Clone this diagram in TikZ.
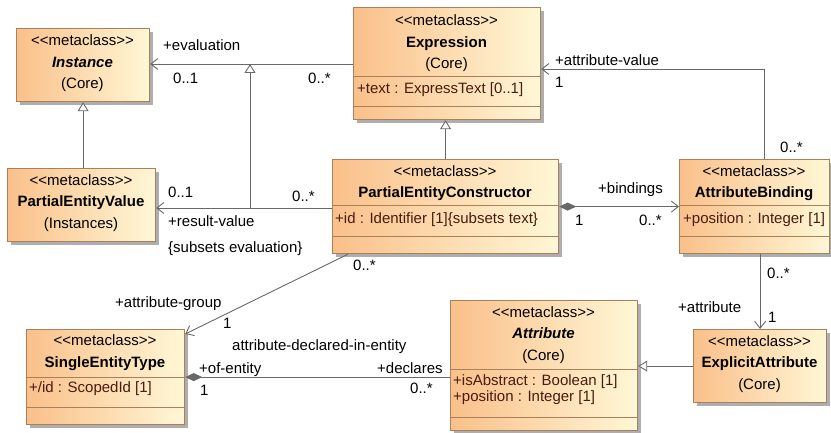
\documentclass[tikz,border=0pt]{standalone}
\usepackage{fontspec}
\setmainfont{Liberation Sans}
\usepackage{xcolor}
\usepackage{tikz}
\usetikzlibrary{arrows.meta, positioning, calc, shadows}

\definecolor{clsleft}{RGB}{250,192,138}
\definecolor{clsright}{RGB}{255,247,214}
\definecolor{clsborder}{RGB}{168,128,92}
\definecolor{attrtext}{RGB}{72,28,16}
\definecolor{linkgray}{RGB}{104,104,104}

\newcommand{\stereo}{<\kern0pt<metaclass>\kern0pt>}

\tikzset{
    Nav/.tip={Straight Barb[length=7pt, width=11pt]},
    Gen/.tip={Triangle[length=9pt, width=11pt, fill=white]},
    Comp/.tip={Diamond[length=17pt, width=8pt, fill=linkgray]},
}

\begin{document}
\begin{tikzpicture}[
    x=1pt, y=1pt,
    font=\fontsize{15}{21.5}\selectfont,
    cls/.style={draw=clsborder, line width=1.2pt, left color=clsleft, right color=clsright,
                drop shadow={shadow xshift=3pt, shadow yshift=-3pt, fill=black!45, opacity=.7},
                anchor=north west, inner sep=0pt},
    hdr/.style={align=center, inner sep=0pt},
    attr/.style={anchor=west, align=left, inner sep=0pt, text=attrtext,
                 font=\fontsize{15}{16}\selectfont},
    sep/.style={clsborder, line width=1pt},
    lbl/.style={anchor=base west, inner sep=0pt},
    link/.style={linkgray, line width=0.9pt},
]
\useasboundingbox (0,0) rectangle (831,-433);

% --- class boxes ---------------------------------------------------------------
\node[cls, minimum width=133pt, minimum height=73pt]  (inst) at (16,-28)  {};
\node[cls, minimum width=187pt, minimum height=112pt] (expr) at (353,-7)  {};
\node[cls, minimum width=148pt, minimum height=73pt]  (pev)  at (7,-168)  {};
\node[cls, minimum width=226pt, minimum height=94pt]  (pec)  at (332,-159) {};
\node[cls, minimum width=150pt, minimum height=94pt]  (ab)   at (679,-159) {};
\node[cls, minimum width=133pt, minimum height=73pt]  (ea)   at (693,-329) {};
\node[cls, minimum width=187pt, minimum height=130pt] (attr) at (450,-300) {};
\node[cls, minimum width=158pt, minimum height=95pt]  (set)  at (26,-329)  {};

\foreach \n/\y in {expr/77, expr/107, pec/206, pec/237, ab/206, ab/237,
                   attr/369, attr/417, set/377, set/407}
  \draw[sep] (\n.west |- 0,-\y) -- (\n.east |- 0,-\y);

% --- headers and attributes ----------------------------------------------------
\node[hdr] (inst-hd) at (82.5,-63.5) {\stereo\\\textbf{\textit{Instance}}\\(Core)};
\node[hdr] (expr-hd) at (446.5,-43.5) {\stereo\\\textbf{Expression}\\(Core)};
\node[hdr] (pev-hd)  at (81,-203) {\stereo\\\textbf{PartialEntityValue}\\(Instances)};
\node[hdr] (pec-hd)  at (445,-183) {\stereo\\\textbf{PartialEntityConstructor}};
\node[hdr] (ab-hd)   at (754,-183) {\stereo\\\textbf{AttributeBinding}};
\node[hdr] (ea-hd)   at (759.5,-364) {\stereo\\\textbf{ExplicitAttribute}\\(Core)};
\node[hdr] (attr-hd) at (543.5,-335) {\stereo\\\textbf{\textit{Attribute}}\\(Core)};
\node[hdr] (set-hd)  at (105,-352.5) {\stereo\\\textbf{SingleEntityType}};

\node[attr] (expr-at) at (357,-90)  {+text : ExpressText [0..1]};
\node[attr] (pec-at)  at (335,-220) {+id : Identifier [1]\{subsets text\}};
\node[attr] (ab-at)   at (683,-220) {+position : Integer [1]};
\node[attr] (attr-at) at (453,-390) {+isAbstract : Boolean [1]\\+position : Integer [1]};
\node[attr] (set-at)  at (29,-389)  {+/id : ScopedId [1]};

% --- evaluation / result-value and their generalization -----------------------
\coordinate (evalj) at (250,-64);
\coordinate (resj)  at (250,-208);
\draw[link, -Nav] (expr.west |- evalj) -- (inst.east |- evalj);
\draw[link, -Nav] (pec.west |- resj) -- (pev.east |- resj);
\draw[link, -Gen] (resj) -- (evalj);
\node[lbl] (eval-rl) at (163,-50.5) {+evaluation};
\node[lbl] (eval-m1) at (173,-83.5) {0..1};
\node[lbl] (eval-m2) at (308,-83.5) {0..*};
\node[lbl] (res-m1)  at (168,-197.5) {0..1};
\node[lbl] (res-m2)  at (292,-202) {0..*};
\node[lbl] (res-rl)  at (168,-226.5) {+result-value};
\node[lbl] (res-sub) at (168,-252.5) {\{subsets evaluation\}};

% --- generalizations -----------------------------------------------------------
\draw[link, -Gen] (inst.south |- pev.north) -- (inst.south);
\draw[link, -Gen] (pec.north) -- (pec.north |- expr.south);
\draw[link, -Gen] (ea.west) -- (ea.west -| attr.east);

% --- attribute-value -----------------------------------------------------------
\coordinate (avbend) at (764,-69);
\draw[link, -Nav] (ab.north -| avbend) -- (avbend) -- (expr.east |- avbend);
\node[lbl] (av-rl) at (555,-65.5) {+attribute-value};
\node[lbl] (av-m1) at (555,-87.5) {1};
\node[lbl] (av-m2) at (780,-152.5) {0..*};

% --- bindings ------------------------------------------------------------------
\draw[link, Comp-Nav] (pec.east) -- (ab.west);
\node[lbl] (bd-rl) at (598,-193.5) {+bindings};
\node[lbl] (bd-m1) at (575,-225.5) {1};
\node[lbl] (bd-m2) at (639,-225.5) {0..*};

% --- attribute -----------------------------------------------------------------
\draw[link, -Nav] (ea.north |- ab.south) -- (ea.north);
\node[lbl] (at-m2) at (767,-278.5) {0..*};
\node[lbl] (at-rl) at (678,-312.5) {+attribute};
\node[lbl] (at-m1) at (768,-322.5) {1};

% --- attribute-group -----------------------------------------------------------
\draw[link, -Nav] ($(pec.south west)+(16,0)$) -- ($(set.north east)+(0,-5)$);
\node[lbl] (ag-m2) at (353,-270.5) {0..*};
\node[lbl] (ag-rl) at (115,-307.5) {+attribute-group};
\node[lbl] (ag-m1) at (223,-328.5) {1};

% --- attribute-declared-in-entity ----------------------------------------------
\draw[link, Comp-] (set.east) -- (set.east -| attr.west);
\node[lbl] (de-nm) at (232,-350.5) {attribute-declared-in-entity};
\node[lbl] (de-r1) at (199,-373.5) {+of-entity};
\node[lbl] (de-m1) at (200,-395.5) {1};
\node[lbl] (de-r2) at (377,-373.5) {+declares};
\node[lbl] (de-m2) at (410,-393.5) {0..*};

\end{tikzpicture}
\end{document}
